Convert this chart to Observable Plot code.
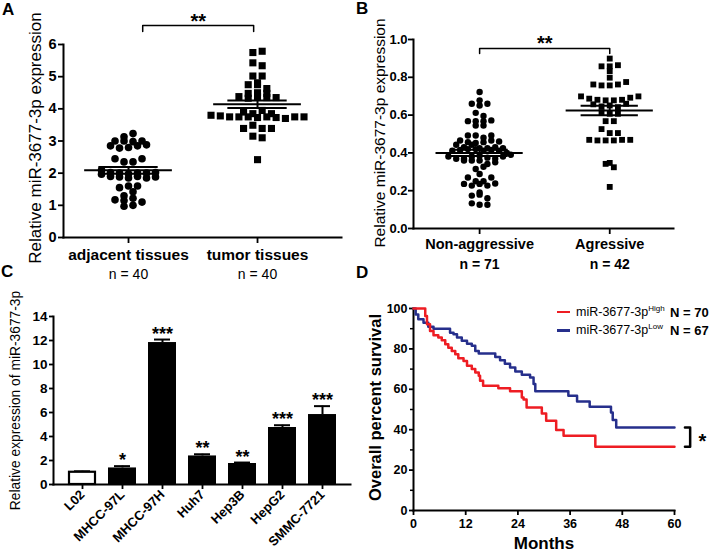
<!DOCTYPE html>
<html><head><meta charset="utf-8">
<script src="https://cdn.jsdelivr.net/npm/d3@7"></script>
<script src="https://cdn.jsdelivr.net/npm/@observablehq/plot@0.6"></script>
<style>
body{margin:0;background:#fff;}
#root{position:relative;width:709px;height:551px;overflow:hidden;background:#fff;font-family:"Liberation Sans",Arial,Helvetica,sans-serif;color:#000}
#root svg{position:absolute;overflow:visible}
.lbl{position:absolute;white-space:nowrap;line-height:1}
</style></head><body><div id="root"></div><script>
// ---------- DATA ----------
const panelA_categories = ["adjacent tissues", "tumor tissues"];
const panelA_counts = ["n = 40", "n = 40"];
const panelA_adjacent = [3.0,3.0,2.85,2.78,2.8,2.85,2.88,2.98,3.0,3.13,3.23,
  2.45,2.35,2.35,2.45,
  2.1,2.02,2.0,1.98,2.0,1.97,2.0,2.02,
  1.9,1.88,1.85,1.9,1.85,1.88,
  1.55,1.6,1.6,
  1.3,1.42,1.17,1.15,1.22,
  1.1,0.97,1.0];
const panelA_tumor = [5.75,5.79,5.43,5.34,5.02,5.02,4.81,4.75,4.75,4.48,4.5,4.48,4.63,4.38,4.33,4.38,4.35,4.35,
  3.9,3.85,3.95,3.85,3.8,3.78,
  3.75,3.75,3.75,3.73,3.75,3.73,3.7,3.75,3.75,
  3.39,3.49,3.39,3.39,
  3.15,3.1,2.42];

const panelB_categories = ["Non-aggressive", "Agressive"];
const panelB_counts = ["n = 71", "n = 42"];
const panelB_nonAggressive = [0.722,
  0.66,0.651,0.66,0.678,
  0.612,0.595,
  0.568,0.568,0.545,0.545,0.568,0.572,
  0.492,0.492,0.48,0.492,
  0.466,0.443,0.457,0.43,0.443,0.452,0.457,0.466,
  0.425,0.412,0.415,0.42,0.425,0.43,0.42,0.412,0.415,0.412,0.425,
  0.381,0.369,0.36,0.369,0.381,0.385,0.375,0.369,0.36,0.36,0.381,
  0.315,0.341,0.327,
  0.288,
  0.27,0.25,0.236,0.227,0.236,0.227,0.238,0.25,0.27,
  0.174,0.191,0.179,0.16,
  0.133,0.126,0.126,
  0.40,0.39,0.46,0.35];
const panelB_aggressive = [0.899,
  0.858,0.833,0.858,0.864,
  0.798,0.762,0.757,0.757,0.762,0.775,
  0.699,0.687,0.681,0.678,0.678,0.681,0.692,0.699,
  0.657,0.646,0.651,0.642,0.66,
  0.616,0.607,0.607,
  0.568,0.568,
  0.526,0.505,
  0.505,0.469,0.466,0.466,0.466,0.469,0.469,
  0.342,0.324,0.347,
  0.22];

const panelC_cells = ["L02","MHCC-97L","MHCC-97H","Huh7","Hep3B","HepG2","SMMC-7721"];
const panelC_means = [1.02, 1.38, 11.83, 2.38, 1.75, 4.75, 5.83];
const panelC_errors = [0.08, 0.15, 0.25, 0.14, 0.08, 0.19, 0.7];
const panelC_stars = ["", "*", "***", "**", "**", "***", "***"];

const panelD_monthsHigh = [0,1.9,2.7,3.1,3.8,4.6,5.7,6.5,7.3,8.0,8.8,9.6,10.3,11.5,12.3,13.4,14.2,15.0,15.3,16.0,19.5,22.2,24.9,25.3,26.0,29.5,30.5,32.8,34.5,41.8,60];
const panelD_survHigh  = [100,100,96.3,92.2,88.9,86.8,85.6,84.3,82.3,80.6,79.0,77.4,75.4,74.0,71.6,70.0,68.3,66.7,64.2,61.7,60.5,59.0,56.0,55.0,51.0,48.0,44.4,39.8,37.0,31.6,31.6];
const panelD_monthsLow = [0,0.5,1.1,2.3,3.4,4.6,8.4,9.2,10.0,11.1,12.3,13.4,14.2,15.0,18.8,19.9,21.0,22.2,23.4,24.9,26.8,27.6,28.0,35.6,37.6,40.5,45.4,45.8,46.6,60];
const panelD_survLow   = [100,97,94.7,93,91,90,88,87.2,85.6,84,82.6,81.5,79,77.7,76,74.4,72.7,70.8,68.8,67.2,65.8,62.6,59,56.8,54,51.4,48.5,44.8,41.1,41.1];
const panelD_legendNames = ["miR-3677-3p", "miR-3677-3p"];
const panelD_legendSup = ["High", "Low"];
const panelD_legendN = ["N = 70", "N = 67"];

// ---------- HELPERS ----------
const FONT = '"Liberation Sans", Arial, Helvetica, sans-serif';
const RED = "#ee1d23", BLUE = "#262f8c";
const root = document.getElementById("root");
function place(svg, left, top){ svg.style.left = left+"px"; svg.style.top = top+"px"; root.appendChild(svg); }
function layoutRows(values, cat, pxPerUnit, rowPx, stepPx, pxPerCat){
  const sorted = values.map((v,i)=>({v,i})).sort((a,b)=>a.v-b.v);
  const rows=[]; let cur=null;
  for(const p of sorted){
    if(!cur || (p.v-cur.start)*pxPerUnit >= rowPx){ cur={start:p.v, pts:[]}; rows.push(cur); }
    cur.pts.push(p);
  }
  const out=[];
  for(const r of rows){
    r.pts.sort((a,b)=>a.i-b.i);
    const n=r.pts.length;
    r.pts.forEach((p,k)=>out.push({cat, value:p.v, x:cat+(k-(n-1)/2)*stepPx/pxPerCat}));
  }
  return out;
}
function stats(values, cat){ return {cat, mean:d3.mean(values), sem:d3.deviation(values)/Math.sqrt(values.length)}; }
function meanSemMarks(st, halfMean, halfSem){
  return [
    Plot.ruleY(st, {x1:d=>d.cat-halfMean, x2:d=>d.cat+halfMean, y:"mean", strokeWidth:2}),
    Plot.ruleY(st, {x1:d=>d.cat-halfSem, x2:d=>d.cat+halfSem, y:d=>d.mean+d.sem, strokeWidth:2}),
    Plot.ruleY(st, {x1:d=>d.cat-halfSem, x2:d=>d.cat+halfSem, y:d=>d.mean-d.sem, strokeWidth:2}),
    Plot.ruleX(st, {x:"cat", y1:d=>d.mean-d.sem, y2:d=>d.mean+d.sem, strokeWidth:2})
  ];
}
const baseStyle = {fontFamily:FONT, fontWeight:"bold", fontSize:"14px", background:"transparent", overflow:"visible"};
function yTitle(text, dx, dy, size, weight){
  return Plot.text([text], {frameAnchor:"left", textAnchor:"middle", rotate:-90, dx, dy, fontSize:size, fontWeight:weight});
}

// ---------- PANEL A ----------
{
  const W=355,H=280,mt=44,mb=43,ml=63,mr=14, xd=[-0.504,1.651], yd=[0,6];
  const pxY=(H-mt-mb)/(yd[1]-yd[0]), pxX=(W-ml-mr)/(xd[1]-xd[0]);
  const circ=layoutRows(panelA_adjacent,0,pxY,4,9,pxX);
  const sq=layoutRows(panelA_tumor,1,pxY,4,9.3,pxX);
  const st=[stats(panelA_adjacent,0), stats(panelA_tumor,1)];
  const bx1=0+0.11, bx2=1-0.03, by=yd[1]+19/pxY, byl=yd[1]+13/pxY;
  const svg=Plot.plot({width:W,height:H,marginTop:mt,marginBottom:mb,marginLeft:ml,marginRight:mr,
    style:baseStyle, x:{domain:xd,axis:null}, y:{domain:yd,axis:null},
    marks:[
      Plot.frame({anchor:"left", strokeWidth:2}),
      Plot.frame({anchor:"bottom", strokeWidth:2}),
      Plot.axisY({ticks:d3.range(0,7), tickFormat:d3.format("d"), tickSize:5, tickPadding:2, strokeWidth:1.8, fontSize:14.5, label:null}),
      Plot.axisX({ticks:[0,1], tickFormat:i=>panelA_categories[i], tickSize:6, tickPadding:5, strokeWidth:1.8, fontSize:15.5, label:null}),
      Plot.text([0,1], {x:d=>d, text:i=>panelA_counts[i], frameAnchor:"bottom", lineAnchor:"bottom", dy:41, fontSize:14, fontWeight:"normal"}),
      yTitle("Relative miR-3677-3p expression", -28, -3, 17, "normal"),
      Plot.dot(circ, {x:"x", y:"value", r:3.8, fill:"black", symbol:"circle"}),
      Plot.dot(sq, {x:"x", y:"value", r:4, fill:"black", symbol:"square"}),
      ...meanSemMarks(st, 0.34, 0.23),
      Plot.line([[bx1,byl],[bx1,by],[bx2,by],[bx2,byl]], {strokeWidth:1.5}),
      Plot.text(["**"], {x:(bx1+bx2)/2, y:yd[1]+17/pxY, lineAnchor:"bottom", fontSize:20})
    ]});
  place(svg,0,0);
}

// ---------- PANEL B ----------
{
  const W=354,H=280,mt=39,mb=52,ml=58,mr=36, xd=[-0.508,1.49], yd=[0,1];
  const pxY=(H-mt-mb)/(yd[1]-yd[0]), pxX=(W-ml-mr)/(xd[1]-xd[0]);
  const circ=layoutRows(panelB_nonAggressive,0,pxY,4,7.8,pxX);
  const sq=layoutRows(panelB_aggressive,1,pxY,4,8.2,pxX);
  const st=[stats(panelB_nonAggressive,0), stats(panelB_aggressive,1)];
  const bx1=0, bx2=1, by=yd[1]-9/pxY, byl=yd[1]-14/pxY;
  const svg=Plot.plot({width:W,height:H,marginTop:mt,marginBottom:mb,marginLeft:ml,marginRight:mr,
    style:baseStyle, x:{domain:xd,axis:null}, y:{domain:yd,axis:null},
    marks:[
      Plot.frame({anchor:"left", strokeWidth:2}),
      Plot.frame({anchor:"bottom", strokeWidth:2}),
      Plot.axisY({ticks:d3.range(0,1.01,0.2), tickFormat:d3.format(".1f"), tickSize:5, tickPadding:1, strokeWidth:1.8, fontSize:13, label:null}),
      Plot.axisX({ticks:[0,1], tickFormat:i=>panelB_categories[i], tickSize:6, tickPadding:4, strokeWidth:1.8, fontSize:14.5, label:null}),
      Plot.text([0,1], {x:d=>d, text:i=>panelB_counts[i], frameAnchor:"bottom", lineAnchor:"bottom", dy:40, fontSize:14}),
      yTitle("Relative miR-3677-3p expression", -33, -1, 15.5, "normal"),
      Plot.dot(circ, {x:"x", y:"value", r:3.2, fill:"black", symbol:"circle"}),
      Plot.dot(sq, {x:"x", y:"value", r:3.3, fill:"black", symbol:"square"}),
      ...meanSemMarks(st, 0.335, 0.22),
      Plot.line([[bx1,byl],[bx1,by],[bx2,by],[bx2,byl]], {strokeWidth:1.5}),
      Plot.text(["**"], {x:(bx1+bx2)/2, y:yd[1]-10.6/pxY, lineAnchor:"bottom", fontSize:20})
    ]});
  place(svg,355,0);
}

// ---------- PANEL C ----------
{
  const data=panelC_cells.map((c,i)=>({cell:c, mean:panelC_means[i], err:panelC_errors[i], star:panelC_stars[i], control:i===0}));
  const svg=Plot.plot({width:355,height:271,marginTop:36,marginBottom:67,marginLeft:53,marginRight:5,
    style:baseStyle, x:{domain:panelC_cells, padding:0.3, axis:null}, y:{domain:[0,14], axis:null},
    marks:[
      Plot.ruleX(data, {x:"cell", y1:"mean", y2:d=>d.mean+d.err, strokeWidth:2}),
      Plot.tickY(data, {x:"cell", y:d=>d.mean+d.err, strokeWidth:2, insetLeft:6, insetRight:6}),
      Plot.barY(data.filter(d=>!d.control), {x:"cell", y:"mean", fill:"black"}),
      Plot.barY(data.filter(d=>d.control), {x:"cell", y:"mean", fill:"white", stroke:"black", strokeWidth:2.2, insetLeft:1, insetRight:1}),
      Plot.frame({anchor:"left", strokeWidth:2}),
      Plot.frame({anchor:"bottom", strokeWidth:2}),
      Plot.axisY({ticks:d3.range(0,15,2), tickSize:4, tickPadding:2, strokeWidth:1.8, fontSize:13.5, label:null}),
      Plot.axisX({tickRotate:-45, tickSize:5, tickPadding:3, strokeWidth:1.8, fontSize:13, label:null}),
      Plot.text(data, {x:"cell", y:d=>d.mean+d.err, text:"star", lineAnchor:"bottom", dy:0, fontSize:18}),
      yTitle("Relative expression of miR-3677-3p", -38, 0, 13.8, "normal")
    ]});
  place(svg,0,280);
}

// ---------- PANEL D ----------
{
  const high=panelD_monthsHigh.map((m,i)=>({m, s:panelD_survHigh[i]}));
  const low=panelD_monthsLow.map((m,i)=>({m, s:panelD_survLow[i]}));
  const hi=low[low.length-1].s, lo=high[high.length-1].s;
  const bxa=62.4, bxb=63.6;
  const svg=Plot.plot({width:354,height:271,marginTop:28,marginBottom:41,marginLeft:58,marginRight:35,
    style:baseStyle, x:{domain:[0,60], axis:null}, y:{domain:[0,100], axis:null},
    marks:[
      Plot.frame({anchor:"left", strokeWidth:2}),
      Plot.frame({anchor:"bottom", strokeWidth:2}),
      Plot.axisY({ticks:d3.range(0,101,20), tickSize:4, tickPadding:2, strokeWidth:1.8, fontSize:12.5, label:null}),
      Plot.axisY({ticks:d3.range(10,100,20), tickSize:3, tickFormat:()=>"", strokeWidth:1.5, label:null}),
      Plot.axisX({ticks:d3.range(0,61,12), tickSize:5, tickPadding:4, strokeWidth:1.8, fontSize:12.5, label:null}),
      Plot.line(low, {x:"m", y:"s", curve:"step-after", stroke:BLUE, strokeWidth:2.5}),
      Plot.line(high, {x:"m", y:"s", curve:"step-after", stroke:RED, strokeWidth:2.5}),
      Plot.text(["Months"], {frameAnchor:"bottom", lineAnchor:"bottom", dy:38, fontSize:17}),
      yTitle("Overall percent survival", -38, -2, 16.5, "bold"),
      Plot.line([[bxa,hi],[bxb,hi],[bxb,lo],[bxa,lo]], {strokeWidth:2.5}),
      Plot.text(["*"], {x:66.4, y:(hi+lo)/2, lineAnchor:"bottom", dy:11, fontSize:20})
    ]});
  place(svg,355,280);
  // legend
  const rowsY=[312,330.5], cols=[RED,BLUE];
  rowsY.forEach((cy,i)=>{
    const ln=document.createElement("div");
    ln.style.cssText=`position:absolute;left:557px;top:${cy-1.25}px;width:12.5px;height:2.5px;background:${cols[i]}`;
    root.appendChild(ln);
    const t=document.createElement("div");
    t.className="lbl";
    t.style.cssText+=`left:576px;top:${cy-6.5}px;font-size:12.5px;`;
    t.innerHTML=`${panelD_legendNames[i]}<span style="font-size:8px;position:relative;top:-5px">${panelD_legendSup[i]}</span>`;
    root.appendChild(t);
    const n=document.createElement("div");
    n.className="lbl";
    n.style.cssText+=`left:670px;top:${cy-6.5}px;font-size:13px;font-weight:bold;`;
    n.textContent=panelD_legendN[i];
    root.appendChild(n);
  });
}

// ---------- PANEL LETTERS ----------
[["A",2,1],["B",356,0],["C",1,263],["D",356,264]].forEach(([l,x,y])=>{
  const d=document.createElement("div");
  d.className="lbl";
  d.style.cssText+=`left:${x}px;top:${y}px;font-size:17px;font-weight:bold;`;
  d.textContent=l;
  root.appendChild(d);
});
</script></body></html>
